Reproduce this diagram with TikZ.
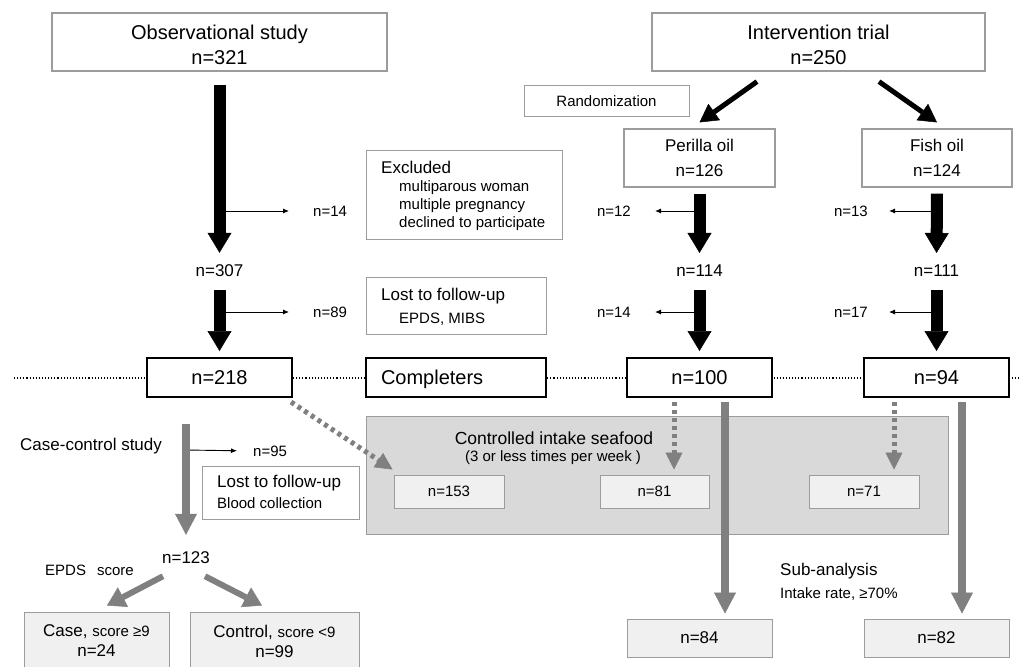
\documentclass[tikz,border=0pt]{standalone}
\usepackage{fontspec}
\setmainfont{Liberation Sans}
\usetikzlibrary{arrows.meta}
\definecolor{boxgray}{HTML}{9C9C9C}
\definecolor{panelgray}{HTML}{D9D9D9}
\definecolor{cellgray}{HTML}{F0F0F0}
\definecolor{arrowgray}{HTML}{808080}
\newcommand{\fsz}[2]{\fontsize{#1pt}{#2pt}\selectfont}

\begin{document}
\begin{tikzpicture}[x=1pt,y=-1pt,
  every node/.style={font=\fsz{17}{20}},
  topbox/.style={draw=boxgray,line width=1.2pt,fill=white,align=center,inner sep=0pt},
  donebox/.style={draw=black,line width=2pt,fill=white,minimum width=145pt,minimum height=39pt,inner sep=0pt,font=\fsz{20}{24}},
  cell/.style={draw=boxgray,line width=1pt,fill=cellgray,inner sep=0pt,align=center},
  note/.style={draw=boxgray,line width=1pt,fill=white,inner sep=0pt},
  num/.style={inner sep=0pt},
  count/.style={font=\fsz{15}{18},inner sep=0pt},
  flow/.style={line width=12pt,-{Triangle[length=20pt,width=24pt,line width=0.5pt]}},
  drop/.style={line width=0.9pt,-{Latex[length=6pt,width=5pt]}},
  split/.style={line width=5pt,-{Triangle[length=18pt,width=20pt,line width=0.5pt]}},
  grayflow/.style={arrowgray,line width=8pt,-{Triangle[length=21pt,width=22pt,line width=0.5pt]}},
  dotflow/.style={arrowgray,line width=5pt,dash pattern=on 4pt off 4pt,-{Triangle[length=17pt,width=17pt,line width=0.5pt]}},
  casesplit/.style={arrowgray,line width=6pt,-{Triangle[length=18pt,width=22pt,line width=0.5pt]}}]
\useasboundingbox (0,0) rectangle (1019,666);

\coordinate (sepL) at (14,378);
\coordinate (sepR) at (1019,378);
\draw[dotted,line width=1.1pt] (sepL) -- (sepR);
\node[draw=boxgray,line width=1pt,fill=panelgray,minimum width=582pt,minimum height=118pt,anchor=north west,inner sep=0pt] (panel) at (366,416) {};

\node[topbox,minimum width=335pt,minimum height=58pt,font=\fsz{20}{25}] (obs) at (219.5,42) {\rule{0pt}{19.5pt}Observational study\\n=321};
\node[topbox,minimum width=333pt,minimum height=58pt,font=\fsz{20}{25}] (trial) at (818.5,42) {\rule{0pt}{19.5pt}Intervention trial\\n=250};
\node[topbox,line width=1pt,minimum width=165pt,minimum height=31pt,font=\fsz{15}{18}] (rand) at (606.5,101.5) {Randomization};
\node[topbox,minimum width=151pt,minimum height=58pt,font=\fsz{17}{25}] (perilla) at (699.5,158) {Perilla oil\\n=126};
\node[topbox,minimum width=150pt,minimum height=58pt,font=\fsz{17}{25}] (fish) at (937,158) {Fish oil\\n=124};

\node[num] (o307) at (219.5,271) {n=307};
\node[num] (p114) at (699.5,271) {n=114};
\node[num] (f111) at (936.5,271) {n=111};

\node[note,minimum width=196pt,minimum height=89pt,anchor=north west] (excl) at (366,150) {};
\node[num,anchor=west] (exclhead) at (381,167) {Excluded};
\node[count,anchor=west,align=left] (excllist) at (399,205.5) {multiparous woman\\multiple pregnancy\\declined to participate};
\node[note,minimum width=180pt,minimum height=57pt,anchor=north west] (lost) at (366,277) {};
\node[num,anchor=west] (losthead) at (381,296) {Lost to follow-up};
\node[count,anchor=west] (lostlist) at (399,319) {EPDS, MIBS};

\node[count,anchor=west] (o14) at (313,211) {n=14};
\node[count,anchor=west] (o89) at (313,312) {n=89};
\node[count,anchor=east] (p12) at (631,211) {n=12};
\node[count,anchor=east] (p14) at (631,312) {n=14};
\node[count,anchor=east] (f13) at (868,211) {n=13};
\node[count,anchor=east] (f17) at (868,312) {n=17};

\node[donebox] (o218) at (219.5,377.5) {n=218};
\node[donebox,minimum width=180pt,text width=150pt,text depth=0pt,align=left] (done) at (456,377.5) {Completers};
\node[donebox] (p100) at (699.5,377.5) {n=100};
\node[donebox] (f94) at (936.5,377.5) {n=94};

\node[num,font=\fsz{17.5}{20}] (panelhead) at (554,438) {Controlled intake seafood};
\node[count] (panelsub) at (553,458) {(3 or less times per week )};
\node[cell,minimum width=110pt,minimum height=33pt,font=\fsz{15}{18}] (c153) at (449,491.5) {n=153};
\node[cell,minimum width=109pt,minimum height=33pt,font=\fsz{15}{18}] (c81) at (654.5,491.5) {n=81};
\node[cell,minimum width=110pt,minimum height=33pt,font=\fsz{15}{18}] (c71) at (864,491.5) {n=71};

\node[cell,minimum width=145pt,minimum height=38pt] (p84) at (699.5,638) {n=84};
\node[cell,minimum width=145pt,minimum height=38pt] (f82) at (936.5,638) {n=82};
\node[num,anchor=west] (subhead) at (780,571) {Sub-analysis};
\node[count,anchor=west] (subrate) at (780,594) {Intake rate, ≥70\%};

\node[num,anchor=west] (cclabel) at (20,446) {Case-control study};
\node[count,anchor=west] (o95) at (253,451) {n=95};
\node[note,minimum width=157pt,minimum height=53pt,anchor=north west] (lostblood) at (202,466) {};
\node[num,anchor=west] (bloodhead) at (217,483) {Lost to follow-up};
\node[count,anchor=west] (bloodlist) at (217,503) {Blood collection};
\node[num] (o123) at (186,558) {n=123};
\node[count,anchor=west] (epds) at (45,570) {EPDS\hspace{11pt}score};
\node[cell,minimum width=145pt,minimum height=58pt] (case) at (96.5,641) {Case, {\fsz{15}{20}score ≥9}\\n=24};
\node[cell,minimum width=169pt,minimum height=58pt] (control) at (274.5,641) {Control, {\fsz{15}{20}score <9}\\n=99};

\coordinate (o14s) at (219.5,211);
\coordinate (o89s) at (219.5,312);
\coordinate (p12s) at (699.5,211);
\coordinate (p14s) at (699.5,312);
\coordinate (f13s) at (936.5,211);
\coordinate (f17s) at (936.5,312);
\coordinate (o95s) at (186,450);
\draw[drop,shorten >=24pt] (o14s) -- (o14.west);
\draw[drop,shorten >=24pt] (o89s) -- (o89.west);
\draw[drop,shorten >=24pt] (p12s) -- (p12.east);
\draw[drop,shorten >=24pt] (p14s) -- (p14.east);
\draw[drop,shorten >=21pt] (f13s) -- (f13.east);
\draw[drop,shorten >=21pt] (f17s) -- (f17.east);
\draw[drop,shorten >=16pt] (o95s) -- (o95.west);

\draw[flow,shorten <=13pt,shorten >=12pt] (obs.south) -- (o307.north);
\draw[flow,shorten <=13pt,shorten >=6pt] (o307.south) -- (o218.north);
\draw[flow,shorten <=6pt,shorten >=12pt] (perilla.south) -- (p114.north);
\draw[flow,shorten <=13pt,shorten >=6pt] (p114.south) -- (p100.north);
\draw[flow,shorten <=6pt,shorten >=12pt] (fish.south) -- (f111.north);
\draw[flow,shorten <=13pt,shorten >=6pt] (f111.south) -- (f94.north);
\draw[split] ([xshift=-61.5pt,yshift=-10pt]trial.south) -- ([yshift=6pt]perilla.north);
\draw[split] ([xshift=60.5pt,yshift=-10pt]trial.south) -- ([yshift=6pt]fish.north);

\draw[dotflow] ([xshift=-2pt,yshift=-4pt]o218.south east) -- ([shift={(-1pt,5pt)}]c153.north west);
\draw[dotflow] ([xshift=-25.5pt,yshift=-4pt]p100.south) -- ([xshift=19.5pt,yshift=5pt]c81.north);
\draw[dotflow] ([xshift=-42.5pt,yshift=-4pt]f94.south) -- ([xshift=30pt,yshift=5pt]c71.north);
\draw[grayflow] ([xshift=25.5pt,yshift=-4pt]p100.south) -- ([xshift=25.5pt,yshift=5pt]p84.north);
\draw[grayflow] ([xshift=25.5pt,yshift=-4pt]f94.south) -- ([xshift=25.5pt,yshift=5pt]f82.north);
\draw[grayflow] ([xshift=-33.5pt,yshift=-26pt]o218.south) -- ([yshift=17pt]o123.north);
\draw[casesplit] ([xshift=-23pt,yshift=-12pt]o123.south) -- ([xshift=10.5pt,yshift=6pt]case.north);
\draw[casesplit] ([xshift=19pt,yshift=-12pt]o123.south) -- ([xshift=-12.5pt,yshift=6pt]control.north);
\end{tikzpicture}
\end{document}
